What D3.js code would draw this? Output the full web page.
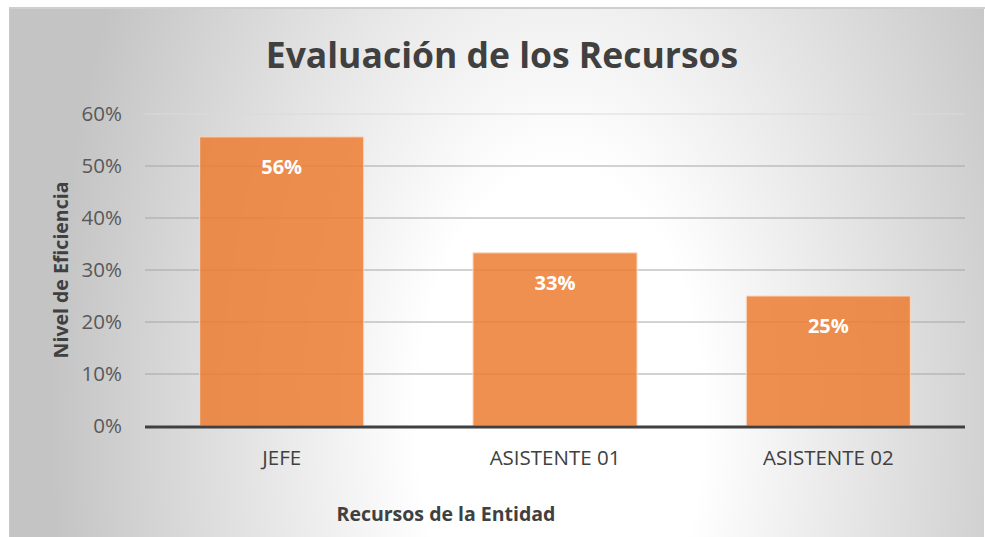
<!DOCTYPE html>
<html>
<head>
<meta charset="utf-8">
<script src="https://cdn.jsdelivr.net/npm/d3@7"></script>
<style>
  body { margin: 0; background: #fff; }
  text { font-family: "Open Sans", "Noto Sans", sans-serif; }
</style>
</head>
<body>
<div id="chart"></div>
<script>
const width = 985;
const height = 537;

// data
const categories = ["JEFE", "ASISTENTE 01", "ASISTENTE 02"];
const values = [0.556, 0.333, 0.25];
const valueLabels = ["56%", "33%", "25%"];
const yTicks = [0, 0.1, 0.2, 0.3, 0.4, 0.5, 0.6];

const plot = { left: 145, right: 965, top: 114, bottom: 426 };

const svg = d3.select("#chart").append("svg")
  .attr("width", width)
  .attr("height", height);

// background: white near the lower middle, gray toward the sides
const defs = svg.append("defs");
const grad = defs.append("radialGradient")
  .attr("id", "bg")
  .attr("gradientUnits", "userSpaceOnUse")
  .attr("cx", 0).attr("cy", 0).attr("r", 1)
  .attr("gradientTransform", "translate(560,420) scale(510,900)");
grad.append("stop").attr("offset", "0%").attr("stop-color", "#ffffff");
grad.append("stop").attr("offset", "28%").attr("stop-color", "#ffffff");
grad.append("stop").attr("offset", "100%").attr("stop-color", "#c4c4c4");

svg.append("rect")
  .attr("x", 9).attr("y", 8)
  .attr("width", 975).attr("height", 530)
  .attr("fill", "url(#bg)");
svg.append("line")
  .attr("x1", 9).attr("x2", 985)
  .attr("y1", 8).attr("y2", 8)
  .attr("stroke", "#cfcfcf").attr("stroke-width", 2);
svg.append("line")
  .attr("x1", 9.5).attr("x2", 9.5)
  .attr("y1", 8).attr("y2", 537)
  .attr("stroke", "#c8c8c8");

const x = d3.scaleBand()
  .domain(categories)
  .range([plot.left, plot.right])
  .paddingInner(0.4)
  .paddingOuter(0.2);

const y = d3.scaleLinear()
  .domain([0, 0.6])
  .range([plot.bottom, plot.top]);

// gridlines
svg.append("g")
  .selectAll("line")
  .data(yTicks.slice(1))
  .join("line")
  .attr("x1", plot.left).attr("x2", plot.right)
  .attr("y1", d => y(d)).attr("y2", d => y(d))
  .attr("stroke", d => d === 0.6 ? "#dadada" : "#a6a6a6")
  .attr("stroke-width", 1);

// y axis labels
const yAxis = d3.axisLeft(y)
  .tickValues(yTicks)
  .tickFormat(d3.format(".0%"))
  .tickSize(0)
  .tickPadding(23);
svg.append("g")
  .attr("transform", `translate(${plot.left},0)`)
  .call(yAxis)
  .call(g => g.select(".domain").remove())
  .selectAll("text")
  .attr("font-family", "'Open Sans', sans-serif")
  .attr("font-size", 20.5)
  .attr("fill", "#595959");

// bars
svg.append("g")
  .selectAll("rect")
  .data(categories)
  .join("rect")
  .attr("x", d => x(d))
  .attr("width", x.bandwidth())
  .attr("y", (d, i) => y(values[i]))
  .attr("height", (d, i) => y(0) - y(values[i]))
  .attr("fill", "#ed7d31")
  .attr("fill-opacity", 0.85)
  .attr("stroke", "#f8d8c0")
  .attr("stroke-width", 1);

// value labels
svg.append("g")
  .selectAll("text")
  .data(categories)
  .join("text")
  .attr("x", d => x(d) + x.bandwidth() / 2)
  .attr("y", (d, i) => y(values[i]) + 37)
  .attr("text-anchor", "middle")
  .attr("font-size", 20)
  .attr("font-weight", "bold")
  .attr("fill", "#ffffff")
  .text((d, i) => valueLabels[i]);

// x axis
const xAxis = d3.axisBottom(x).tickSize(0).tickPadding(24);
svg.append("g")
  .attr("transform", `translate(0,${plot.bottom})`)
  .call(xAxis)
  .call(g => g.select(".domain").remove())
  .selectAll("text")
  .attr("font-family", "'Open Sans', sans-serif")
  .attr("font-size", 20.5)
  .attr("fill", "#404040");

svg.append("line")
  .attr("x1", plot.left).attr("x2", plot.right)
  .attr("y1", plot.bottom + 1).attr("y2", plot.bottom + 1)
  .attr("stroke", "#404040")
  .attr("stroke-width", 3);

// titles
svg.append("text")
  .attr("x", 502).attr("y", 68)
  .attr("text-anchor", "middle")
  .attr("font-size", 35.5)
  .attr("font-weight", "bold")
  .attr("fill", "#404040")
  .text("Evaluación de los Recursos");

svg.append("text")
  .attr("x", 446).attr("y", 521)
  .attr("text-anchor", "middle")
  .attr("font-size", 19.5)
  .attr("font-weight", "bold")
  .attr("fill", "#404040")
  .text("Recursos de la Entidad");

svg.append("text")
  .attr("transform", "translate(68,270) rotate(-90)")
  .attr("text-anchor", "middle")
  .attr("font-size", 19.5)
  .attr("font-weight", "bold")
  .attr("fill", "#404040")
  .text("Nivel de Eficiencia");
</script>
</body>
</html>
